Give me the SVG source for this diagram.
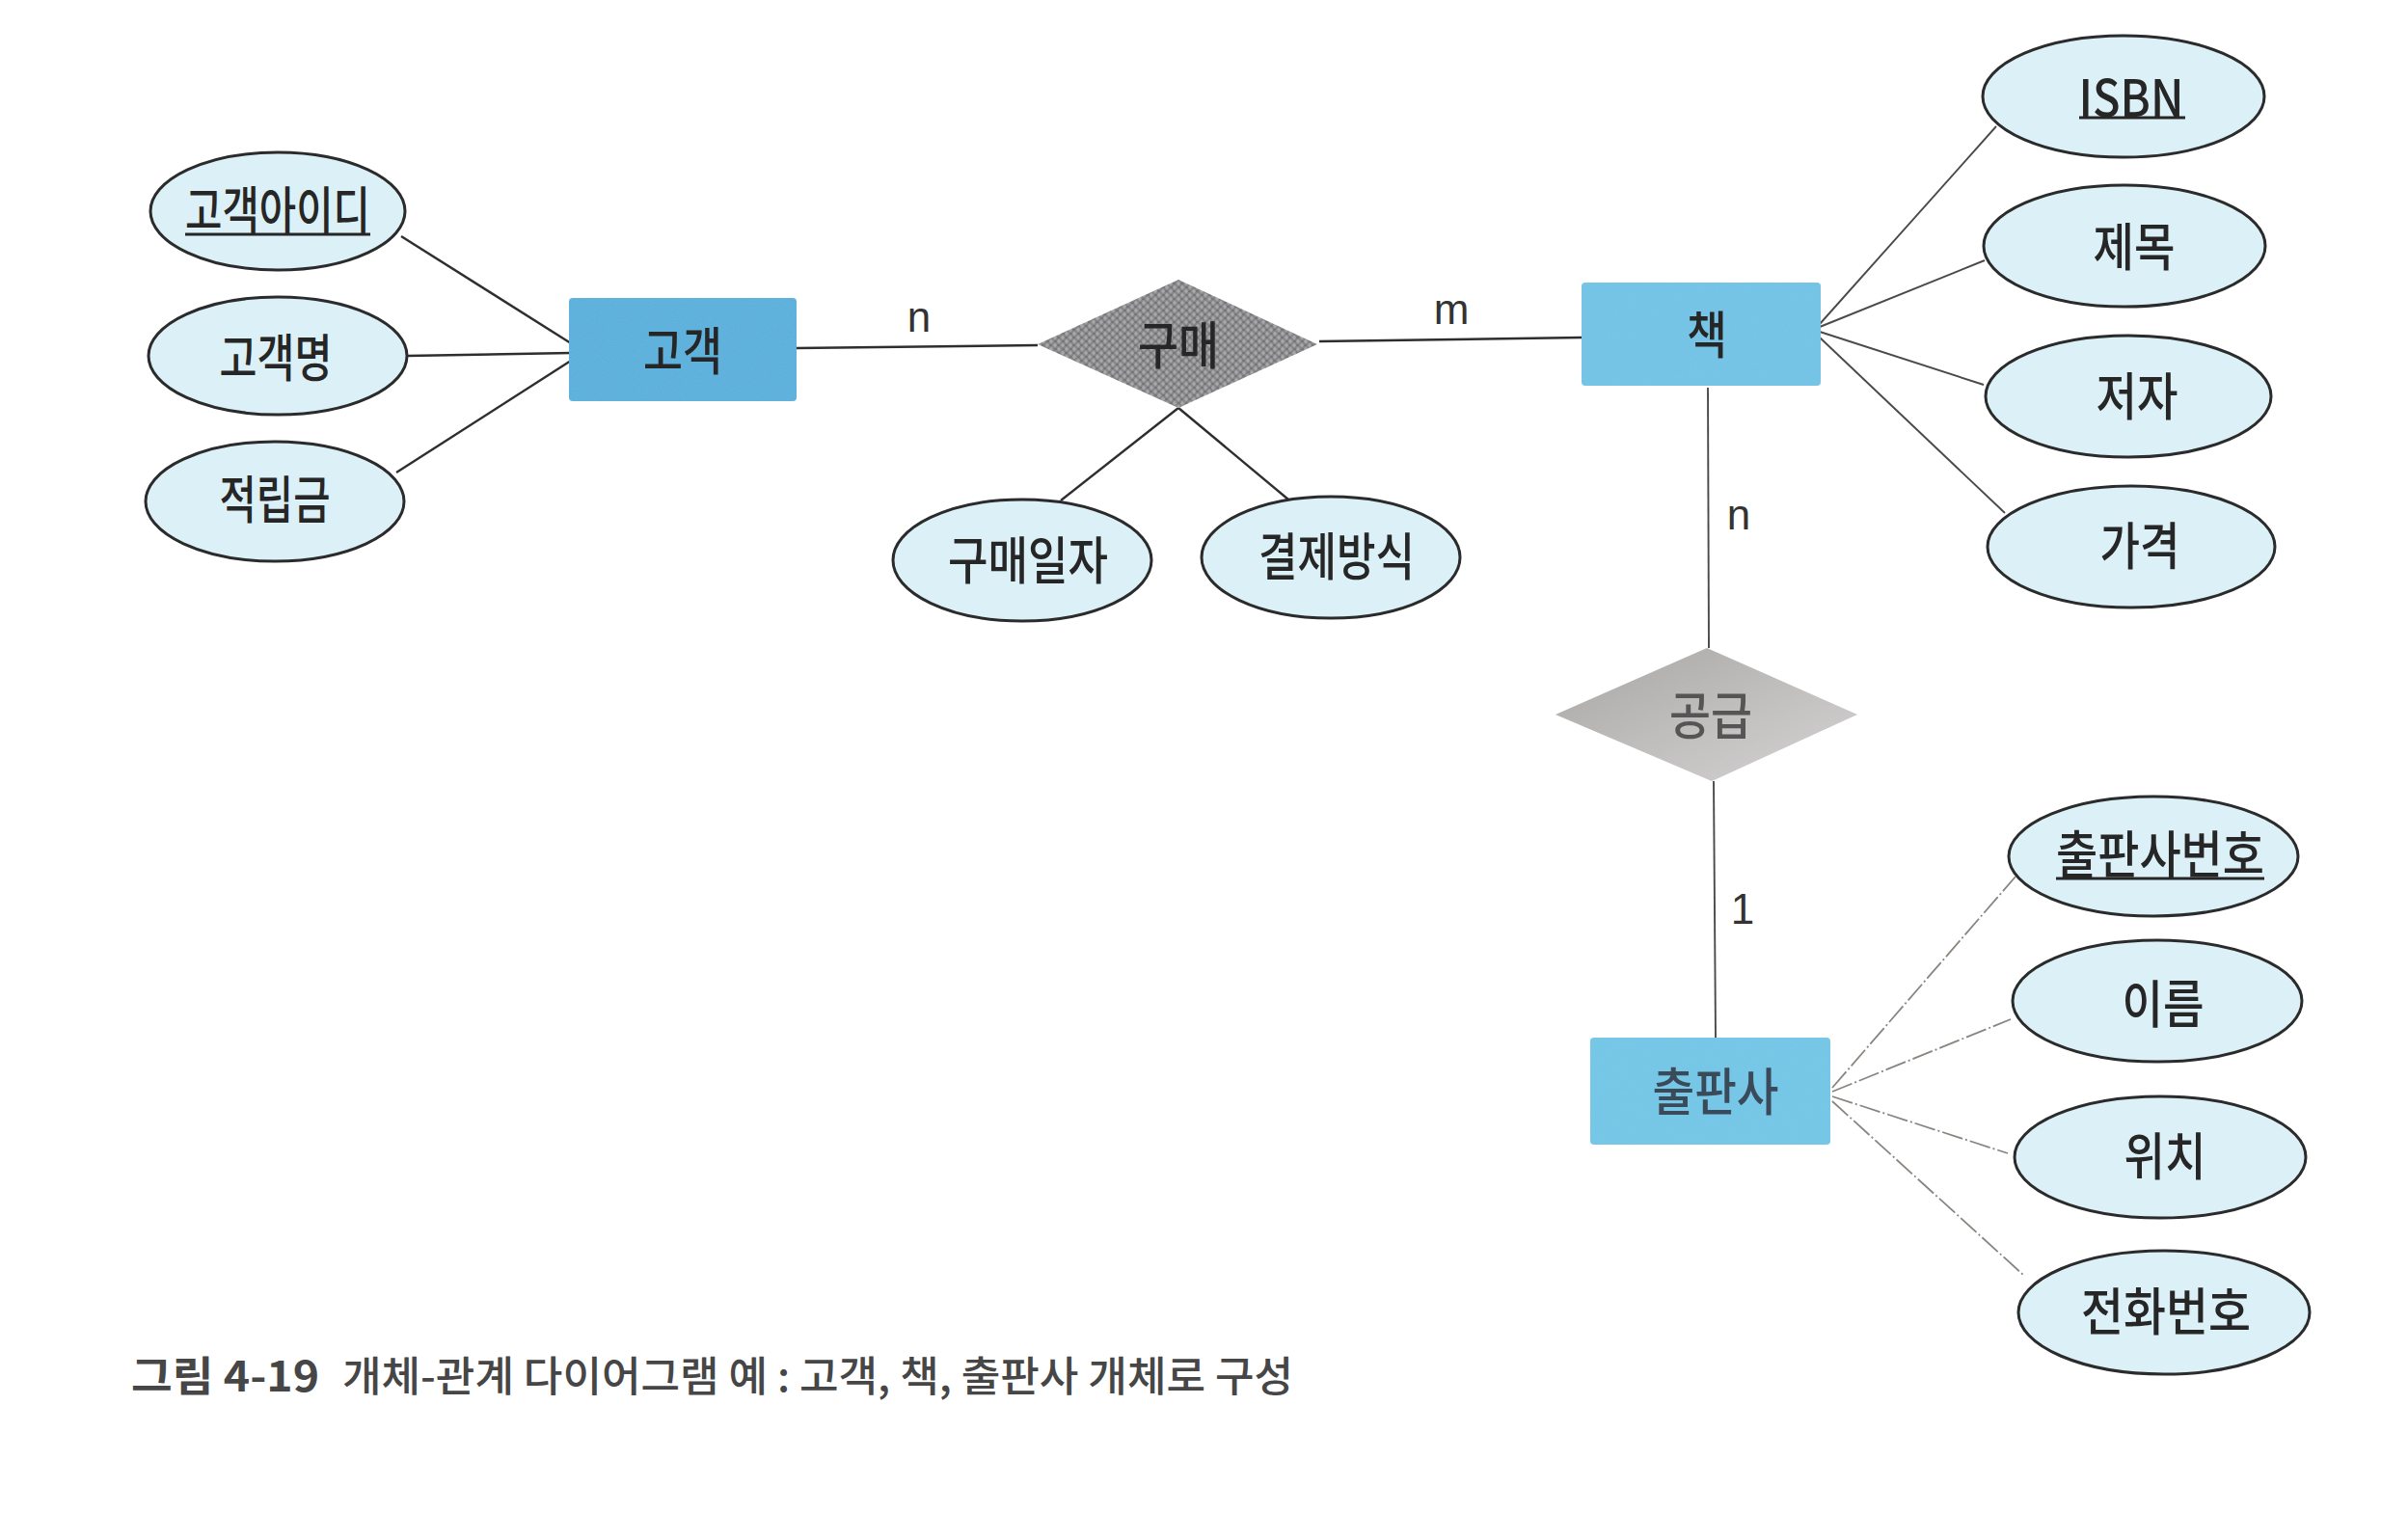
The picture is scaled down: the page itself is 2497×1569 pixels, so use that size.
<svg xmlns="http://www.w3.org/2000/svg" width="2497" height="1569" viewBox="0 0 2497 1569">
<defs>
<style>
.attr{fill:#dcf1f7;stroke:#2b2b2b;stroke-width:3}
.lbl{font-family:"Noto Sans CJK KR","Noto Sans",sans-serif;font-size:53px;font-weight:500;fill:#262626;text-anchor:middle;dominant-baseline:central}
.ent{stroke:none}
.ul{stroke:#262626;stroke-width:3}
.conn{stroke:#2e2e2e;stroke-width:2.4;fill:none}
.thin{stroke:#4a4a4a;stroke-width:1.9;fill:none}
.faint{stroke:#8a8580;stroke-width:1.8;fill:none;stroke-dasharray:22 3 2 3}
.card{font-family:"Liberation Sans","DejaVu Sans",sans-serif;font-size:44px;fill:#333;text-anchor:middle;dominant-baseline:central}
.cap{font-family:"Noto Sans CJK KR","Noto Sans",sans-serif;font-size:43px;fill:#464646;dominant-baseline:central}
</style>
<pattern id="weave" width="8" height="8" patternUnits="userSpaceOnUse">
<rect width="8" height="8" fill="#89898b"/>
<path d="M0 2h4M4 6h4M2 0v4M6 4v4" stroke="#b0b0b2" stroke-width="1.2"/>
<path d="M0 6h3M5 2h3" stroke="#666668" stroke-width="1"/>
</pattern>
<linearGradient id="gray2" x1="0" y1="0" x2="1" y2="1">
<stop offset="0" stop-color="#a5a3a2"/>
<stop offset="0.5" stop-color="#c0bebd"/>
<stop offset="1" stop-color="#d8d6d6"/>
</linearGradient>
<filter id="grain" x="0" y="0" width="1" height="1">
<feTurbulence type="fractalNoise" baseFrequency="0.9" numOctaves="2" result="n"/>
<feColorMatrix in="n" type="matrix" values="0 0 0 0 0.5 0 0 0 0 0.5 0 0 0 0 0.5 0 0 0 0.2 0" result="g"/>
<feComposite in="g" in2="SourceGraphic" operator="in" result="gg"/>
<feMerge><feMergeNode in="SourceGraphic"/><feMergeNode in="gg"/></feMerge>
</filter>
</defs>
<rect width="2497" height="1569" fill="#ffffff"/>

<g id="connectors">
<line class="conn" x1="416" y1="245" x2="592" y2="356"/>
<line class="conn" x1="422" y1="369" x2="592" y2="366"/>
<line class="conn" x1="411" y1="490" x2="592" y2="374"/>
<line class="conn" x1="826" y1="361" x2="1076" y2="358"/>
<line class="conn" x1="1368" y1="354" x2="1640" y2="350"/>
<line class="conn" x1="1222" y1="423" x2="1100" y2="519"/>
<line class="conn" x1="1222" y1="423" x2="1336" y2="518"/>
<line class="thin" x1="1887" y1="336" x2="2070" y2="131"/>
<line class="thin" x1="1887" y1="339" x2="2058" y2="270"/>
<line class="thin" x1="1887" y1="344" x2="2057" y2="399"/>
<line class="thin" x1="1887" y1="350" x2="2079" y2="532"/>
<line class="thin" x1="1771" y1="402" x2="1772" y2="672"/>
<line class="thin" x1="1777" y1="810" x2="1779" y2="1076"/>
<line class="faint" x1="1900" y1="1128" x2="2090" y2="909"/>
<line class="faint" x1="1900" y1="1132" x2="2085" y2="1057"/>
<line class="faint" x1="1900" y1="1137" x2="2082" y2="1196"/>
<line class="faint" x1="1900" y1="1142" x2="2098" y2="1322"/>
<text class="card" x="953" y="328">n</text>
<text class="card" x="1505" y="320">m</text>
<text class="card" x="1803" y="533">n</text>
<text class="card" x="1807" y="942">1</text>
</g>

<g id="attr-customer-id">
<ellipse class="attr" cx="288" cy="219" rx="132" ry="61"/>
<text class="lbl" x="288" y="215" textLength="192" lengthAdjust="spacingAndGlyphs">고객아이디</text>
<line class="ul" x1="192" y1="243" x2="384" y2="243"/>
</g>
<g id="attr-customer-name">
<ellipse class="attr" cx="288" cy="369" rx="134" ry="61"/>
<text class="lbl" x="286" y="368" textLength="117" lengthAdjust="spacingAndGlyphs">고객명</text>
</g>
<g id="attr-points">
<ellipse class="attr" cx="285" cy="520" rx="134" ry="62"/>
<text class="lbl" x="285" y="515" textLength="115" lengthAdjust="spacingAndGlyphs">적립금</text>
</g>
<g id="entity-customer">
<rect class="ent" x="590" y="309" width="236" height="107" rx="4" fill="#4db1e0" filter="url(#grain)"/>
<text class="lbl" x="708" y="361" textLength="82" lengthAdjust="spacingAndGlyphs">고객</text>
</g>
<g id="rel-purchase">
<polygon points="1076,357 1222,290 1366,357 1222,423" fill="url(#weave)"/>
<text class="lbl" x="1222" y="355" textLength="84" lengthAdjust="spacingAndGlyphs">구매</text>
</g>
<g id="attr-purchase-date">
<ellipse class="attr" cx="1060" cy="581" rx="134" ry="63"/>
<text class="lbl" x="1066" y="578" textLength="166" lengthAdjust="spacingAndGlyphs">구매일자</text>
</g>
<g id="attr-payment">
<ellipse class="attr" cx="1380" cy="578" rx="134" ry="63"/>
<text class="lbl" x="1386" y="574" textLength="162" lengthAdjust="spacingAndGlyphs">결제방식</text>
</g>
<g id="entity-book">
<rect class="ent" x="1640" y="293" width="248" height="107" rx="4" fill="#6ac5ea" filter="url(#grain)"/>
<text class="lbl" x="1770" y="344" textLength="42" lengthAdjust="spacingAndGlyphs">책</text>
</g>
<g id="attr-isbn">
<ellipse class="attr" cx="2202" cy="100" rx="146" ry="63"/>
<text class="lbl" x="2210" y="98" textLength="109" lengthAdjust="spacingAndGlyphs">ISBN</text>
<line class="ul" x1="2156" y1="122" x2="2266" y2="122"/>
</g>
<g id="attr-title">
<ellipse class="attr" cx="2203" cy="255" rx="146" ry="63"/>
<text class="lbl" x="2213" y="253" textLength="85" lengthAdjust="spacingAndGlyphs">제목</text>
</g>
<g id="attr-author">
<ellipse class="attr" cx="2207" cy="411" rx="148" ry="63"/>
<text class="lbl" x="2216" y="408" textLength="85" lengthAdjust="spacingAndGlyphs">저자</text>
</g>
<g id="attr-price">
<ellipse class="attr" cx="2210" cy="567" rx="149" ry="63"/>
<text class="lbl" x="2219" y="563" textLength="83" lengthAdjust="spacingAndGlyphs">가격</text>
</g>
<g id="rel-supply">
<polygon points="1613,741 1770,672 1926,741 1775,810" fill="url(#gray2)" filter="url(#grain)"/>
<text class="lbl" x="1774" y="739" textLength="86" lengthAdjust="spacingAndGlyphs" style="fill:#555">공급</text>
</g>
<g id="entity-publisher">
<rect class="ent" x="1649" y="1076" width="249" height="111" rx="4" fill="#6cc8eb" filter="url(#grain)"/>
<text class="lbl" x="1779" y="1129" textLength="131" lengthAdjust="spacingAndGlyphs" style="fill:#3a4a58">출판사</text>
</g>
<g id="attr-publisher-no">
<ellipse class="attr" cx="2233" cy="888" rx="150" ry="62"/>
<text class="lbl" x="2240" y="883" textLength="216" lengthAdjust="spacingAndGlyphs">출판사번호</text>
<line class="ul" x1="2132" y1="911" x2="2348" y2="911"/>
</g>
<g id="attr-name">
<ellipse class="attr" cx="2237" cy="1038" rx="150" ry="63"/>
<text class="lbl" x="2243" y="1038" textLength="85" lengthAdjust="spacingAndGlyphs">이름</text>
</g>
<g id="attr-location">
<ellipse class="attr" cx="2240" cy="1200" rx="151" ry="63"/>
<text class="lbl" x="2245" y="1196" textLength="85" lengthAdjust="spacingAndGlyphs">위치</text>
</g>
<g id="attr-phone">
<ellipse class="attr" cx="2244" cy="1361" rx="151" ry="64"/>
<text class="lbl" x="2246" y="1357" textLength="176" lengthAdjust="spacingAndGlyphs">전화번호</text>
</g>

<g id="caption">
<text class="cap" x="136" y="1424" font-weight="700" textLength="195" lengthAdjust="spacingAndGlyphs">그림 4-19</text>
<text class="cap" x="355" y="1424" font-weight="500" textLength="986" lengthAdjust="spacingAndGlyphs">개체-관계 다이어그램 예 : 고객, 책, 출판사 개체로 구성</text>
</g>
</svg>
